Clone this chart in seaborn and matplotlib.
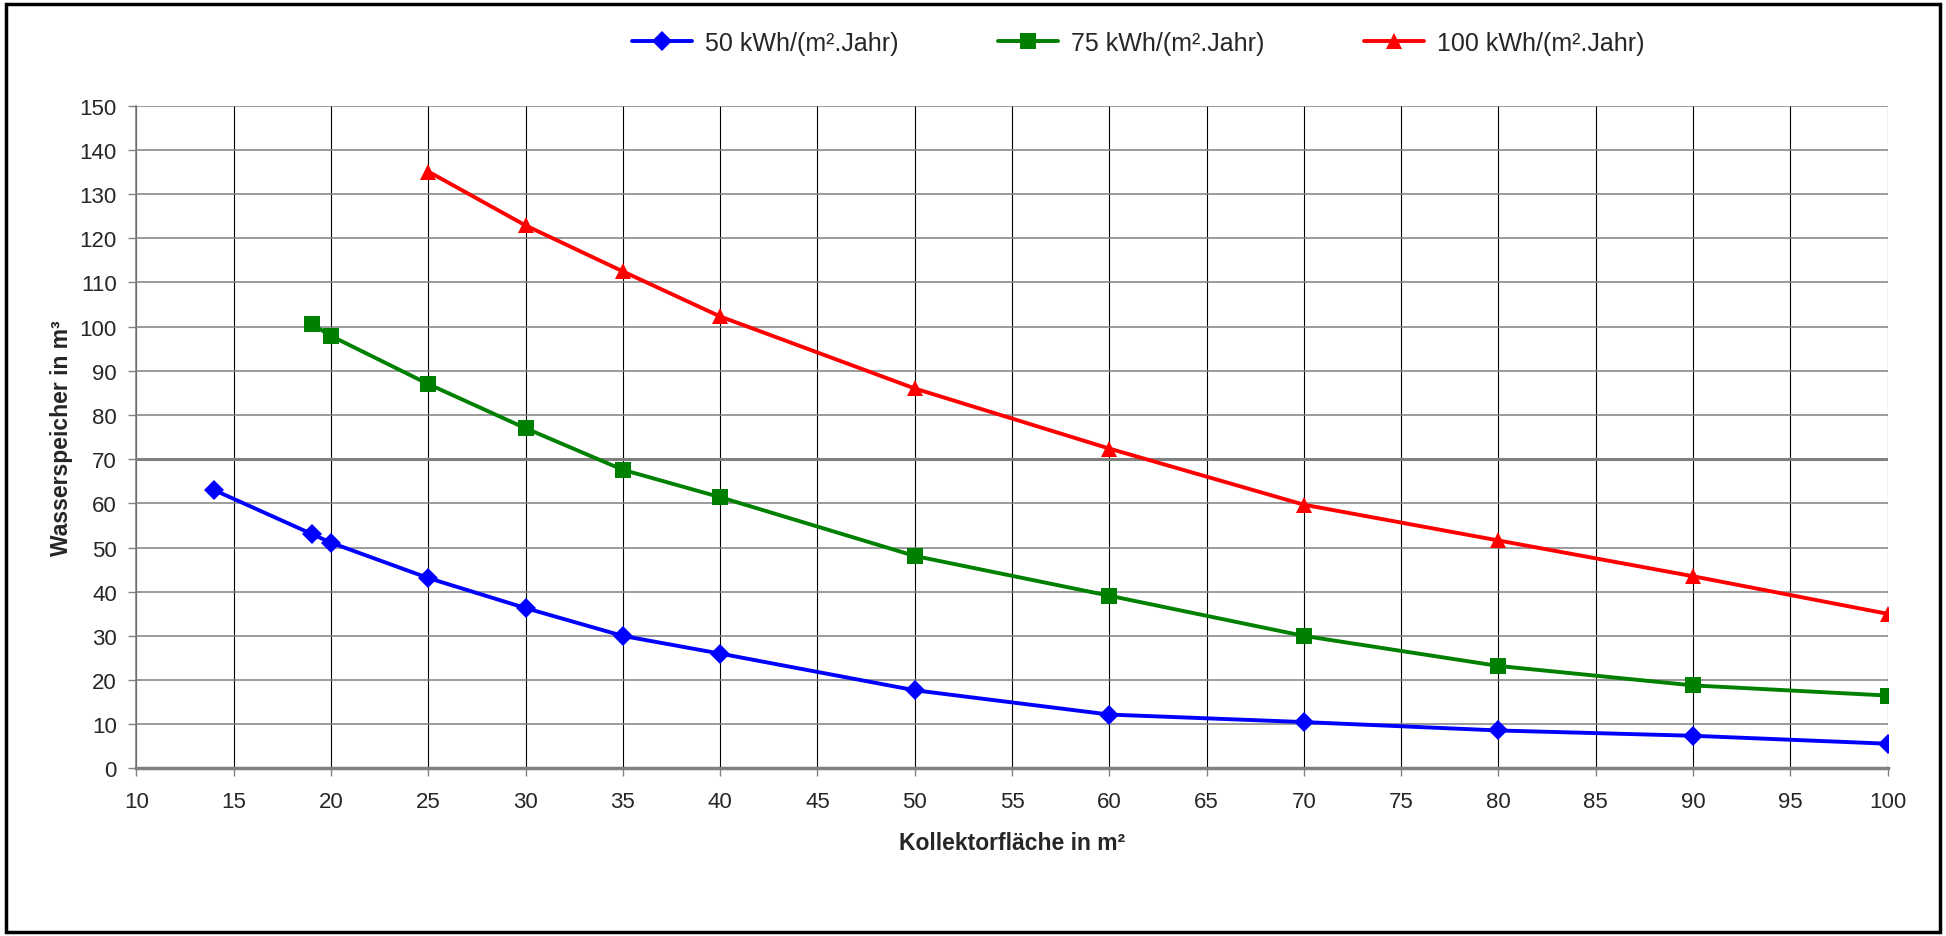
import pandas as pd
import matplotlib.pyplot as plt
import seaborn as sns
from matplotlib.patches import Rectangle

# values
x_50 = [14, 19, 20, 25, 30, 35, 40, 50, 60, 70, 80, 90, 100]
y_50 = [63.0, 53.1, 51.1, 43.1, 36.3, 30.0, 26.0, 17.7, 12.2, 10.5, 8.6, 7.4, 5.6]
x_75 = [19, 20, 25, 30, 35, 40, 50, 60, 70, 80, 90, 100]
y_75 = [100.6, 97.9, 87.0, 77.0, 67.6, 61.4, 48.1, 39.1, 30.0, 23.2, 18.8, 16.5]
x_100 = [25, 30, 35, 40, 50, 60, 70, 80, 90, 100]
y_100 = [135.1, 122.9, 112.5, 102.3, 86.0, 72.4, 59.7, 51.6, 43.5, 35.0]

labels = ['50 kWh/(m².Jahr)', '75 kWh/(m².Jahr)', '100 kWh/(m².Jahr)']
colors = ['#0000FF', '#008000', '#FF0000']
markers = ['D', 's', '^']
msizes = [10, 12, 12]
xticks = list(range(10, 101, 5))
yticks = list(range(0, 151, 10))

df = pd.concat([
    pd.DataFrame({'x': x_50, 'y': y_50, 'serie': labels[0]}),
    pd.DataFrame({'x': x_75, 'y': y_75, 'serie': labels[1]}),
    pd.DataFrame({'x': x_100, 'y': y_100, 'serie': labels[2]}),
])

sns.set_style('white')
plt.rcParams['font.family'] = ['Liberation Sans', 'DejaVu Sans']

fig = plt.figure(figsize=(19.46, 9.37), dpi=100)
ax = fig.add_axes([0.0701, 0.1788, 0.8999, 0.7073])

sns.lineplot(data=df, x='x', y='y', hue='serie', style='serie',
             palette=dict(zip(labels, colors)), markers=dict(zip(labels, markers)),
             dashes=False, estimator=None, sort=False, linewidth=2.8,
             markeredgewidth=0, ax=ax, legend=False, zorder=3)
for line, ms in zip(ax.get_lines(), msizes):
    line.set_markersize(ms)

ax.set_xlim(10, 100)
ax.set_ylim(0, 150)
ax.set_xticks(xticks)
ax.set_yticks(yticks)
ax.tick_params(axis='both', labelsize=16, length=6, width=1, color='#808080',
               direction='out', left=True, bottom=True)
ax.tick_params(axis='x', pad=10)
ax.tick_params(axis='y', pad=8)

for xv in xticks:
    ax.axvline(xv, color='black', lw=0.8, zorder=1)
for yv in yticks:
    ax.axhline(yv, color='#808080', lw=2.2 if yv == 70 else 1.1, zorder=1)

for s in ['top', 'right']:
    ax.spines[s].set_visible(False)
ax.spines['left'].set_color('#808080')
ax.spines['left'].set_linewidth(1.2)
ax.spines['bottom'].set_color('#808080')
ax.spines['bottom'].set_linewidth(2.5)

ax.set_xlabel('Kollektorfläche in m²', fontsize=16.5, fontweight='bold', labelpad=14)
ax.set_ylabel('Wasserspeicher in m³', fontsize=16.5, fontweight='bold', labelpad=5)

handles = [plt.Line2D([], [], color=c, marker=m, lw=2.8, markersize=ms, markeredgewidth=0)
           for c, m, ms in zip(colors, markers, msizes)]
fig.legend(handles, labels, loc='center', bbox_to_anchor=(0.585, 0.953), ncol=3,
           frameon=False, fontsize=18, handlelength=2.4, columnspacing=4.0,
           handletextpad=0.5)

fig.patches.append(Rectangle((0.003, 0.004), 0.994, 0.991, transform=fig.transFigure,
                             fill=False, edgecolor='black', linewidth=2.5))

fig.savefig('out.png', dpi=100)
